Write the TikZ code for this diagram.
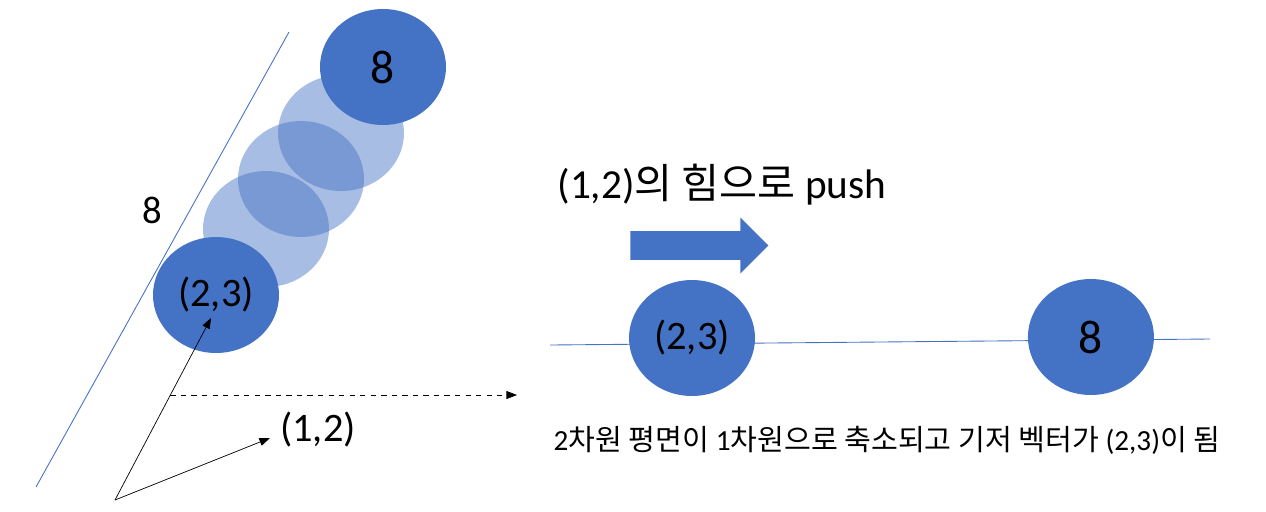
\documentclass[tikz,border=0pt]{standalone}
\usepackage{fontspec}
\setmainfont{Carlito}
\newfontfamily\kr{Noto Sans CJK KR}
\usepackage{tikz}
\usetikzlibrary{shapes,arrows.meta}
\usetikzlibrary{positioning}
\definecolor{ppblue}{HTML}{4472C4}
\tikzset{ball/.style={ellipse, fill=ppblue, minimum width=2.52cm, minimum height=2.32cm, inner sep=0pt},
ghost/.style={ball, fill opacity=0.47},
vec/.style={-{Triangle[length=6pt,width=4.5pt]}, thin},
span/.style={ppblue, line width=0.5pt}
}

\begin{document}
\begin{tikzpicture}[x=0.02cm, y=-0.02cm, node distance=7.98cm, on grid]
        \useasboundingbox (0,0) rectangle (1266,511);
        % left: span of (2,3)
        \coordinate (s_0) at (36,487);
        \coordinate (s_1) at (289,32);
        \draw[span] (s_0) -- (s_1);
        \foreach \x/\y in {266/229, 301/179, 341/133}
            \node[ghost] at (\x,\y) {};
        \node[ball] (c_23) at (216,295) {\fontsize{23}{27}\selectfont (2,3)};
        \node[ball] (c_8)  at (383,67)  {\fontsize{27}{31}\selectfont 8};
        \node (len) at (152,210) {\fontsize{22}{26}\selectfont 8};

        \coordinate (o)   at (115,500);
        \coordinate (e_1) at (270,438);
        \coordinate (e_2) at (211,318);
        \coordinate (p)   at (170.4,395);
        \coordinate (q)   at (517,395);
        \draw[vec] (o) -- (e_1);
        \draw[vec] (o) -- (e_2);
        \draw[vec, dashed] (p) -- (q);
        \node (l_12) at (318,430) {\fontsize{23}{27}\selectfont (1,2)};

        % right: after the push
        \node (title) at (722,185) {\fontsize{23.5}{28}\selectfont (1,2){\kr 의 힘으로} push};
        \node[single arrow, fill=ppblue, minimum height=2.76cm, inner xsep=0pt, inner ysep=0.28cm,
              single arrow head extend=0.27cm, anchor=tail] (push) at (630,245.5) {};
        \coordinate (a_0) at (550,345);
        \coordinate (a_1) at (1210,339);
        \draw[span] (a_0) -- (a_1);
        \node[ball] (r_23) at (692,338) {\fontsize{23}{27}\selectfont (2,3)};
        \node[ball] (r_8) [right =of r_23, yshift=0.02cm] {\fontsize{27}{31}\selectfont 8};
        \node (note) at (887,440) {\fontsize{16.6}{20}\selectfont 2{\kr 차원 평면이} 1{\kr 차원으로 축소되고 기저 벡터가} (2,3){\kr 이 됨}};
      \end{tikzpicture}
\end{document}
